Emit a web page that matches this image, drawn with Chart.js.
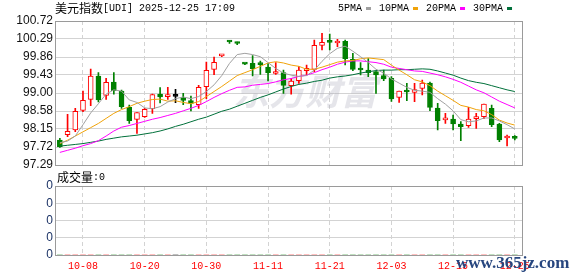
<!DOCTYPE html>
<html>
<head>
<meta charset="utf-8">
<script src="https://cdn.jsdelivr.net/npm/chart.js@4.4.1/dist/chart.umd.min.js"></script>
<style>
  html, body { margin: 0; padding: 0; background: #fff; }
  #wrap { position: relative; width: 578px; height: 276px; overflow: hidden; }
  #kline { position: absolute; left: 0; top: 0; }
  #vol { position: absolute; left: 0; top: 166px; }
</style>
</head>
<body>
<div id="wrap">
  <canvas id="kline" width="578" height="172"></canvas>
  <canvas id="vol" width="578" height="110"></canvas>
</div>
<script>
const titleName = "美元指数";
const titleCode = "[UDI] 2025-12-25 17:09";
const volTitle = "成交量";
const volValueText = ":0";

const dates = [
  "10-03", "10-06", "10-07", "10-08", "10-09", "10-10", "10-13", "10-14", "10-15", "10-16",
  "10-17", "10-20", "10-21", "10-22", "10-23", "10-24", "10-27", "10-28", "10-29", "10-30",
  "10-31", "11-03", "11-04", "11-05", "11-06", "11-07", "11-10", "11-11", "11-12", "11-13",
  "11-14", "11-17", "11-18", "11-19", "11-20", "11-21", "11-24", "11-25", "11-26", "11-27",
  "11-28", "12-01", "12-02", "12-03", "12-04", "12-05", "12-08", "12-09", "12-10", "12-11",
  "12-12", "12-15", "12-16", "12-17", "12-18", "12-19", "12-22", "12-23", "12-24", "12-25"
];
const opens = [
  97.885, 98.012, 98.124, 98.592, 98.854, 99.410, 98.949, 99.267, 99.053, 98.664,
  98.378, 98.441, 98.632, 98.980, 98.918, 98.926, 98.894, 98.822, 98.727, 99.156,
  99.569, 99.890, 100.228, 100.192, 99.700, 99.712, 99.704, 99.624, 99.470, 99.490,
  99.180, 99.299, 99.537, 99.569, 100.140, 100.236, 100.196, 100.236, 99.807, 99.601,
  99.553, 99.513, 99.418, 99.354, 98.902, 99.061, 99.021, 99.116, 99.243, 98.648,
  98.366, 98.386, 98.267, 98.227, 98.394, 98.441, 98.640, 98.267, 97.933, 97.941
];
const highs = [
  97.925, 98.497, 98.640, 99.050, 99.577, 99.490, 99.354, 99.490, 99.077, 98.720,
  98.537, 98.640, 98.980, 99.132, 99.140, 99.090, 98.997, 98.934, 99.187, 99.744,
  99.863, 99.918, 100.252, 100.220, 99.710, 99.894, 99.767, 99.712, 99.728, 99.553,
  99.354, 99.632, 99.672, 100.268, 100.426, 100.410, 100.283, 100.268, 99.950, 99.728,
  99.823, 99.513, 99.553, 99.394, 99.053, 99.235, 99.235, 99.315, 99.267, 98.759,
  98.521, 98.481, 98.322, 98.664, 98.521, 98.743, 98.720, 98.283, 98.005, 97.989
];
const lows = [
  97.710, 97.965, 98.084, 98.560, 98.703, 98.790, 98.854, 98.980, 98.640, 98.283,
  98.045, 98.425, 98.520, 98.767, 98.854, 98.775, 98.727, 98.576, 98.640, 98.870,
  99.442, 99.870, 100.188, 100.156, 99.680, 99.410, 99.450, 99.291, 99.450, 98.997,
  98.980, 99.235, 99.434, 99.513, 100.029, 100.029, 100.109, 99.672, 99.537, 99.434,
  99.394, 98.997, 99.299, 98.807, 98.783, 98.823, 98.799, 98.957, 98.584, 98.124,
  98.283, 98.124, 97.870, 98.187, 98.163, 98.394, 98.203, 97.846, 97.743, 97.885
];
const closes = [
  97.727, 98.092, 98.568, 98.830, 99.410, 98.838, 99.259, 99.060, 98.680, 98.346,
  98.537, 98.616, 98.965, 98.910, 98.926, 98.926, 98.830, 98.759, 99.140, 99.545,
  99.736, 99.898, 100.220, 100.184, 99.692, 99.585, 99.680, 99.490, 99.478, 99.188,
  99.291, 99.553, 99.593, 100.140, 100.212, 100.212, 100.204, 99.823, 99.569, 99.553,
  99.490, 99.434, 99.339, 98.862, 99.053, 99.029, 99.084, 99.243, 98.664, 98.346,
  98.382, 98.267, 98.203, 98.386, 98.441, 98.743, 98.251, 97.885, 97.949, 97.925
];
const ma5 = [
  97.82, 97.86, 97.98, 98.25, 98.53, 98.75, 98.98, 99.08, 99.05, 98.84,
  98.78, 98.65, 98.63, 98.68, 98.79, 98.87, 98.91, 98.87, 98.92, 99.04,
  99.20, 99.42, 99.71, 99.92, 99.95, 99.92, 99.87, 99.73, 99.59, 99.48,
  99.43, 99.40, 99.42, 99.55, 99.76, 99.94, 100.07, 100.12, 100.00, 99.87,
  99.73, 99.57, 99.48, 99.34, 99.24, 99.14, 99.07, 99.05, 99.02, 98.87,
  98.74, 98.58, 98.37, 98.32, 98.34, 98.41, 98.41, 98.34, 98.25, 98.15
];
const ma10 = [
  97.80, 97.88, 97.98, 98.08, 98.18, 98.28, 98.40, 98.52, 98.61, 98.68,
  98.76, 98.81, 98.85, 98.86, 98.81, 98.82, 98.78, 98.75, 98.80, 98.92,
  99.04, 99.16, 99.29, 99.42, 99.49, 99.56, 99.64, 99.72, 99.75, 99.72,
  99.67, 99.64, 99.57, 99.57, 99.62, 99.68, 99.74, 99.77, 99.78, 99.82,
  99.84, 99.82, 99.80, 99.67, 99.55, 99.44, 99.32, 99.27, 99.18, 99.05,
  98.94, 98.83, 98.71, 98.67, 98.61, 98.58, 98.49, 98.36, 98.29, 98.24
];
const ma20 = [
  97.59, 97.64, 97.69, 97.75, 97.80, 97.87, 97.98, 98.10, 98.19, 98.23,
  98.28, 98.33, 98.38, 98.42, 98.47, 98.52, 98.58, 98.64, 98.71, 98.80,
  98.90, 98.99, 99.07, 99.14, 99.15, 99.19, 99.21, 99.23, 99.27, 99.32,
  99.35, 99.40, 99.43, 99.49, 99.56, 99.62, 99.69, 99.74, 99.77, 99.77,
  99.75, 99.73, 99.69, 99.62, 99.59, 99.56, 99.53, 99.52, 99.48, 99.44,
  99.39, 99.33, 99.26, 99.17, 99.08, 99.01, 98.91, 98.81, 98.73, 98.65
];
const ma30 = [
  97.74, 97.76, 97.78, 97.80, 97.83, 97.86, 97.90, 97.93, 97.96, 97.98,
  98.00, 98.03, 98.06, 98.10, 98.15, 98.21, 98.26, 98.32, 98.38, 98.43,
  98.50, 98.57, 98.62, 98.69, 98.76, 98.83, 98.90, 98.96, 99.03, 99.10,
  99.16, 99.21, 99.24, 99.28, 99.31, 99.36, 99.39, 99.41, 99.44, 99.48,
  99.51, 99.54, 99.55, 99.55, 99.56, 99.56, 99.57, 99.58, 99.57, 99.53,
  99.48, 99.43, 99.36, 99.30, 99.26, 99.23, 99.18, 99.13, 99.08, 99.04
];
const volumes = [
  0, 0, 0, 0, 0, 0, 0, 0, 0, 0, 0, 0, 0, 0, 0, 0, 0, 0, 0, 0,
  0, 0, 0, 0, 0, 0, 0, 0, 0, 0, 0, 0, 0, 0, 0, 0, 0, 0, 0, 0,
  0, 0, 0, 0, 0, 0, 0, 0, 0, 0, 0, 0, 0, 0, 0, 0, 0, 0, 0, 0
];
const maNames = ["5PMA", "10PMA", "20PMA", "30PMA"];
const priceTicks = ["100.72", "100.29", "99.86", "99.43", "99.00", "98.58", "98.15", "97.72", "97.29"];
const volTicks = ["0", "0", "0", "0", "0"];
const xTickLabels = ["10-08", "10-20", "10-30", "11-11", "11-21", "12-03", "12-15", "12-25"];

// styles
const UP = "#ff0000";
const DOWN = "#008000";
const FLAT = "#000000";
const maColors = ["#a0a0a0", "#f0a30a", "#ff00ff", "#00703a"];
const GRID = "#d3d3d3";
const FRAME = "#9a9a9a";
const CJK = '"Noto Sans CJK SC"';
const MONO = '"Liberation Mono", "DejaVu Sans Mono", monospace';
const SANS = '"Liberation Sans", Arial, sans-serif';

const candleColor = (i) =>
  closes[i] > opens[i] ? UP : closes[i] < opens[i] ? DOWN : FLAT;
const bodyFill = (i) => (closes[i] > opens[i] ? "#ffffff" : candleColor(i));
const idx = dates.map((d, i) => i);
const series = (arr) => arr.map((v, i) => ({ x: i, y: v }));

function xScale(showLabels) {
  return {
    type: "linear",
    offset: false,
    min: -0.5,
    max: dates.length,
    afterBuildTicks: (s) => {
      s.ticks = xTickLabels.map((l) => ({ value: dates.indexOf(l) }));
    },
    afterFit: (s) => {
      s.height = showLabels ? 21 : 0;
      s.paddingLeft = 0;
      s.paddingRight = 0;
    },
    grid: { color: GRID, drawTicks: false, offset: false, borderDash: [4, 3] },
    border: { display: false, dash: [4, 3] },
    ticks: {
      display: showLabels,
      autoSkip: false,
      maxRotation: 0,
      padding: 5,
      color: UP,
      font: { family: MONO, size: 10 },
      callback: (v) => dates[v],
    },
  };
}

function yScale(labels, min, max, color) {
  const step = (max - min) / (labels.length - 1);
  return {
    position: "left",
    min: min,
    max: max,
    afterBuildTicks: (s) => {
      s.ticks = labels.map((l, i) => ({ value: min + i * step }));
    },
    afterFit: (s) => {
      s.width = 56;
      s.paddingTop = 0;
      s.paddingBottom = 0;
    },
    grid: { color: GRID, drawTicks: false },
    border: { display: false },
    ticks: {
      autoSkip: false,
      padding: 3,
      color: color,
      font: { family: SANS, size: 12 },
      callback: (v, i) => labels[labels.length - 1 - i],
    },
  };
}

function strokeFrame(ctx, a) {
  ctx.save();
  ctx.strokeStyle = FRAME;
  ctx.lineWidth = 1;
  const l = Math.floor(a.left) - 0.5;
  const t = Math.floor(a.top) + 0.5;
  const r = Math.floor(a.right) + 0.5;
  const b = Math.floor(a.bottom) + 0.5;
  ctx.strokeRect(l, t, r - l, b - t);
  ctx.restore();
}

const klineDecor = {
  id: "klineDecor",
  beforeDatasetsDraw(chart) {
    const { ctx, chartArea } = chart;
    ctx.save();
    ctx.font = "italic bold 36px " + CJK;
    ctx.fillStyle = "rgba(170,170,185,0.3)";
    ctx.textBaseline = "middle";
    ctx.fillText("东方财富", 233, 91);
    ctx.restore();
    strokeFrame(ctx, chartArea);
  },
  afterDraw(chart) {
    const ctx = chart.ctx;
    ctx.save();
    ctx.textBaseline = "middle";
    ctx.fillStyle = "#000";
    ctx.font = "12px " + CJK;
    ctx.fillText(titleName, 55, 8.5);
    const w = ctx.measureText(titleName).width;
    ctx.font = "10px " + MONO;
    ctx.fillText(titleCode, 55 + w, 8.5);

    let x = 338;
    maNames.forEach((name, k) => {
      ctx.fillStyle = "#000";
      ctx.fillText(name, x, 8.5);
      x += ctx.measureText(name).width + 4;
      ctx.fillStyle = maColors[k];
      ctx.fillRect(x, 7, 5, 3);
      x += 5 + 8;
    });
    ctx.restore();
  },
};

const maSets = [ma5, ma10, ma20, ma30].map((arr, k) => ({
  type: "line",
  label: maNames[k],
  data: series(arr),
  borderColor: maColors[k],
  borderWidth: 1,
  pointRadius: 0,
  tension: 0,
  order: 1,
}));

new Chart(document.getElementById("kline"), {
  type: "bar",
  data: {
    datasets: [
      ...maSets,
      {
        label: "body",
        data: idx.map((i) => ({ x: i, y: [opens[i], closes[i]] })),
        backgroundColor: idx.map(bodyFill),
        borderColor: idx.map(candleColor),
        borderWidth: 1,
        borderSkipped: false,
        barThickness: 5,
        minBarLength: 2,
        grouped: false,
        order: 2,
      },
      {
        label: "wick",
        data: idx.map((i) => ({ x: i, y: [lows[i], highs[i]] })),
        backgroundColor: idx.map(candleColor),
        borderWidth: 0,
        barThickness: 1,
        grouped: false,
        order: 3,
      },
    ],
  },
  options: {
    responsive: false,
    animation: false,
    devicePixelRatio: 1,
    layout: { padding: { left: 0, right: 55.5, top: 21, bottom: 7 } },
    plugins: { legend: { display: false }, tooltip: { enabled: false } },
    scales: {
      x: xScale(false),
      y: yScale(priceTicks, +priceTicks[priceTicks.length - 1], +priceTicks[0], "#111"),
    },
  },
  plugins: [klineDecor],
});

const volDecor = {
  id: "volDecor",
  beforeDatasetsDraw(chart) {
    strokeFrame(chart.ctx, chart.chartArea);
  },
  afterDraw(chart) {
    const ctx = chart.ctx;
    ctx.save();
    ctx.textBaseline = "middle";
    ctx.fillStyle = "#000";
    ctx.font = "12px " + CJK;
    ctx.fillText(volTitle, 57, 11.3);
    const w = ctx.measureText(volTitle).width;
    ctx.font = "10px " + MONO;
    ctx.fillText(volValueText, 57 + w, 11.3);

    ctx.font = "bold 17px \"Liberation Serif\", serif";
    ctx.fillStyle = "#27467f";
    ctx.textBaseline = "alphabetic";
    ctx.fillText("www.365jz.com", 456, 101.5);
    ctx.restore();
  },
};

new Chart(document.getElementById("vol"), {
  type: "bar",
  data: {
    datasets: [
      {
        label: "volume",
        data: series(volumes),
        backgroundColor: idx.map(candleColor),
        barThickness: 5,
        borderWidth: 0,
      },
    ],
  },
  options: {
    responsive: false,
    animation: false,
    devicePixelRatio: 1,
    layout: { padding: { left: 0, right: 55.5, top: 20, bottom: 0 } },
    plugins: { legend: { display: false }, tooltip: { enabled: false } },
    scales: {
      x: xScale(true),
      y: yScale(volTicks, 0, volTicks.length - 1, "#1c3366"),
    },
  },
  plugins: [volDecor],
});
</script>
</body>
</html>
